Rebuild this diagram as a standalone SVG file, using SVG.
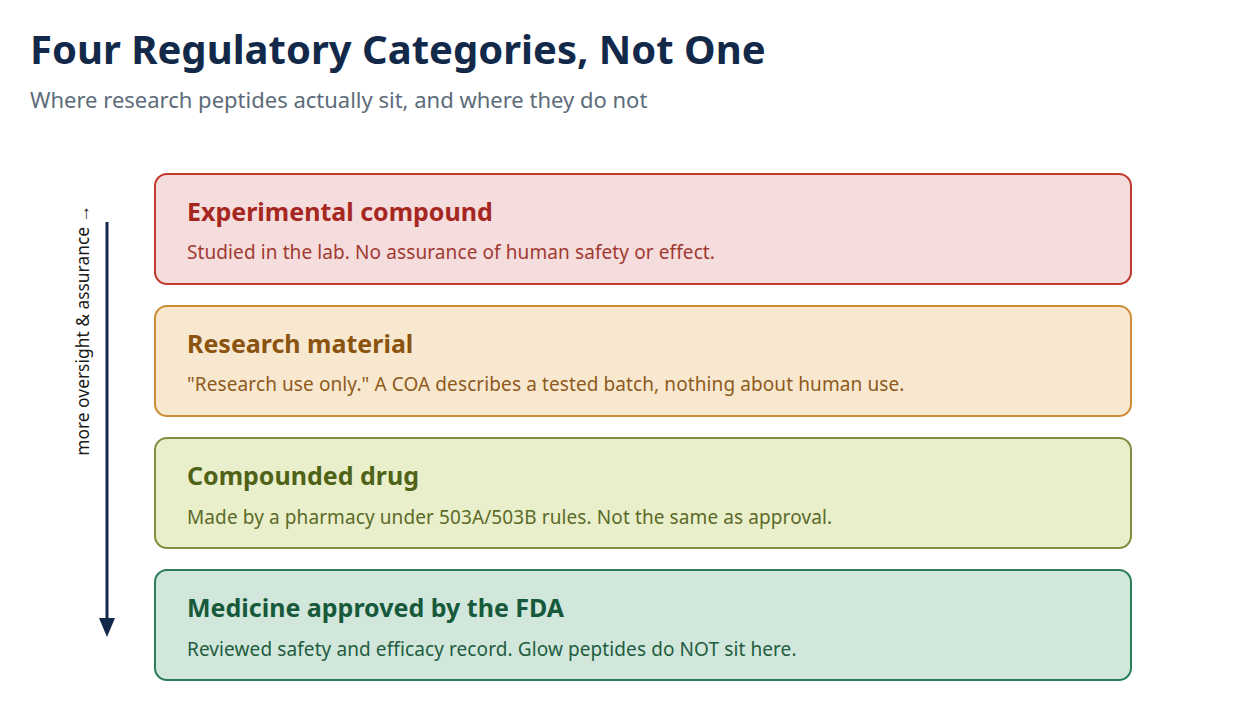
<svg xmlns="http://www.w3.org/2000/svg" width="1247" height="710" viewBox="0 0 1247 710">
<style>
.t{font-family:"Noto Sans","Open Sans",sans-serif;}
.h{font-size:25px;font-weight:700;}
.b{font-size:19px;letter-spacing:0.1px;}
.box{stroke-width:2;}
</style>
<rect width="1247" height="710" fill="#ffffff"/>
<text class="t" x="30" y="64" font-size="40" font-weight="700" fill="#13294a">Four Regulatory Categories, Not One</text>
<text class="t" x="30" y="108" font-size="22" fill="#5c6b7a">Where research peptides actually sit, and where they do not</text>
<g id="connectors">
<line x1="107" y1="222" x2="107" y2="622" stroke="#13294a" stroke-width="3"/>
<polygon points="99,618 115,618 107,637" fill="#13294a"/>
<text class="t" transform="translate(89,205) rotate(-90)" text-anchor="end" font-size="17.4" fill="#1a1a1a">more oversight &amp; assurance →</text>
</g>
<g id="n1">
<rect class="box" x="155" y="174" width="976" height="110" rx="12" fill="#f5dcdd" stroke="#c0392b"/>
<text class="t h" x="187" y="221" fill="#a5271f">Experimental compound</text>
<text class="t b" x="187" y="259" fill="#a03a30">Studied in the lab. No assurance of human safety or effect.</text>
</g>
<g id="n2">
<rect class="box" x="155" y="306" width="976" height="110" rx="12" fill="#f9e8d0" stroke="#cc8d35"/>
<text class="t h" x="187" y="353" fill="#8a5410">Research material</text>
<text class="t b" x="187" y="391" fill="#8e5a1c">"Research use only." A COA describes a tested batch, nothing about human use.</text>
</g>
<g id="n3">
<rect class="box" x="155" y="438" width="976" height="110" rx="12" fill="#eaefcb" stroke="#7e8f40"/>
<text class="t h" x="187" y="485" fill="#4e6318">Compounded drug</text>
<text class="t b" x="187" y="524" fill="#5a6a28">Made by a pharmacy under 503A/503B rules. Not the same as approval.</text>
</g>
<g id="n4">
<rect class="box" x="155" y="570" width="976" height="110" rx="12" fill="#d1e7db" stroke="#2a7d58"/>
<text class="t h" x="187" y="617" fill="#17593b">Medicine approved by the FDA</text>
<text class="t b" x="187" y="656" fill="#225c40">Reviewed safety and efficacy record. Glow peptides do NOT sit here.</text>
</g>
</svg>
